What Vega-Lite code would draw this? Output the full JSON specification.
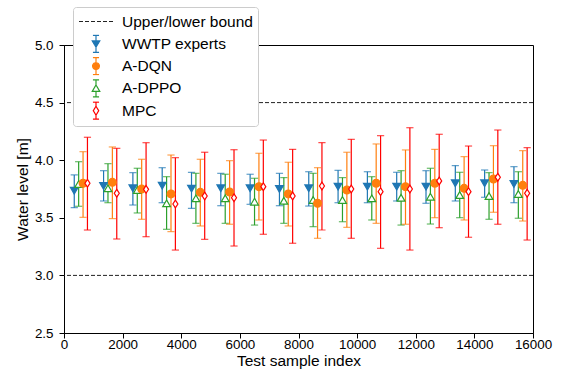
{
  "$schema": "https://vega.github.io/schema/vega-lite/v6.json",
  "autosize": {"type": "none"},
  "padding": {"left": 64, "top": 45, "right": 31, "bottom": 41},
  "width": 469,
  "height": 288,
  "background": "white",
  "config": {
    "font": "Liberation Sans",
    "view": {"stroke": "black", "strokeWidth": 1},
    "axis": {
      "grid": false,
      "domainColor": "black",
      "domainWidth": 1,
      "tickColor": "black",
      "tickWidth": 1,
      "tickSize": 5,
      "labelFlush": false,
      "labelOverlap": false,
      "labelFont": "Liberation Sans",
      "labelFontSize": 13.4,
      "labelColor": "black",
      "titleFont": "Liberation Sans",
      "titleFontSize": 15.5,
      "titleFontWeight": "normal",
      "titleColor": "black"
    }
  },
  "datasets": {
    "bounds": [
      {"series": "Upper/lower bound", "b": 3.0},
      {"series": "Upper/lower bound", "b": 4.5}
    ],
    "pts": [
      {"series": "WWTP experts", "x": 350, "y": 3.735, "lo": 3.588, "hi": 3.872},
      {"series": "WWTP experts", "x": 1350, "y": 3.776, "lo": 3.646, "hi": 3.909},
      {"series": "WWTP experts", "x": 2350, "y": 3.756, "lo": 3.611, "hi": 3.892},
      {"series": "WWTP experts", "x": 3350, "y": 3.779, "lo": 3.631, "hi": 3.935},
      {"series": "WWTP experts", "x": 4350, "y": 3.753, "lo": 3.582, "hi": 3.895},
      {"series": "WWTP experts", "x": 5350, "y": 3.756, "lo": 3.605, "hi": 3.886},
      {"series": "WWTP experts", "x": 6350, "y": 3.756, "lo": 3.617, "hi": 3.878},
      {"series": "WWTP experts", "x": 7350, "y": 3.75, "lo": 3.605, "hi": 3.886},
      {"series": "WWTP experts", "x": 8350, "y": 3.756, "lo": 3.602, "hi": 3.9},
      {"series": "WWTP experts", "x": 9350, "y": 3.77, "lo": 3.631, "hi": 3.912},
      {"series": "WWTP experts", "x": 10350, "y": 3.77, "lo": 3.631, "hi": 3.9},
      {"series": "WWTP experts", "x": 11350, "y": 3.77, "lo": 3.646, "hi": 3.895},
      {"series": "WWTP experts", "x": 12350, "y": 3.77, "lo": 3.626, "hi": 3.909},
      {"series": "WWTP experts", "x": 13350, "y": 3.8, "lo": 3.646, "hi": 3.953},
      {"series": "WWTP experts", "x": 14350, "y": 3.8, "lo": 3.678, "hi": 3.915},
      {"series": "WWTP experts", "x": 15350, "y": 3.793, "lo": 3.631, "hi": 3.944},
      {"series": "A-DPPO", "x": 500, "y": 3.793, "lo": 3.6, "hi": 3.987},
      {"series": "A-DPPO", "x": 1500, "y": 3.756, "lo": 3.631, "hi": 3.97},
      {"series": "A-DPPO", "x": 2500, "y": 3.741, "lo": 3.542, "hi": 3.93},
      {"series": "A-DPPO", "x": 3500, "y": 3.626, "lo": 3.4, "hi": 3.857},
      {"series": "A-DPPO", "x": 4500, "y": 3.669, "lo": 3.452, "hi": 3.886},
      {"series": "A-DPPO", "x": 5500, "y": 3.669, "lo": 3.452, "hi": 3.878},
      {"series": "A-DPPO", "x": 6500, "y": 3.64, "lo": 3.437, "hi": 3.843},
      {"series": "A-DPPO", "x": 7500, "y": 3.648, "lo": 3.452, "hi": 3.849},
      {"series": "A-DPPO", "x": 8500, "y": 3.655, "lo": 3.423, "hi": 3.886},
      {"series": "A-DPPO", "x": 9500, "y": 3.655, "lo": 3.466, "hi": 3.849},
      {"series": "A-DPPO", "x": 10500, "y": 3.669, "lo": 3.481, "hi": 3.857},
      {"series": "A-DPPO", "x": 11500, "y": 3.674, "lo": 3.437, "hi": 3.909},
      {"series": "A-DPPO", "x": 12500, "y": 3.683, "lo": 3.446, "hi": 3.93},
      {"series": "A-DPPO", "x": 13500, "y": 3.698, "lo": 3.501, "hi": 3.895},
      {"series": "A-DPPO", "x": 14500, "y": 3.689, "lo": 3.487, "hi": 3.892},
      {"series": "A-DPPO", "x": 15500, "y": 3.707, "lo": 3.496, "hi": 3.9},
      {"series": "A-DQN", "x": 650, "y": 3.8, "lo": 3.504, "hi": 4.074},
      {"series": "A-DQN", "x": 1650, "y": 3.808, "lo": 3.493, "hi": 4.115},
      {"series": "A-DQN", "x": 2650, "y": 3.75, "lo": 3.487, "hi": 4.008},
      {"series": "A-DQN", "x": 3650, "y": 3.707, "lo": 3.38, "hi": 4.045},
      {"series": "A-DQN", "x": 4650, "y": 3.721, "lo": 3.429, "hi": 4.008},
      {"series": "A-DQN", "x": 5650, "y": 3.724, "lo": 3.444, "hi": 3.996},
      {"series": "A-DQN", "x": 6650, "y": 3.77, "lo": 3.481, "hi": 4.06},
      {"series": "A-DQN", "x": 7650, "y": 3.707, "lo": 3.429, "hi": 3.982},
      {"series": "A-DQN", "x": 8650, "y": 3.626, "lo": 3.322, "hi": 3.935},
      {"series": "A-DQN", "x": 9650, "y": 3.741, "lo": 3.417, "hi": 4.069},
      {"series": "A-DQN", "x": 10650, "y": 3.8, "lo": 3.452, "hi": 4.141},
      {"series": "A-DQN", "x": 11650, "y": 3.77, "lo": 3.444, "hi": 4.089},
      {"series": "A-DQN", "x": 12650, "y": 3.8, "lo": 3.501, "hi": 4.094},
      {"series": "A-DQN", "x": 13650, "y": 3.756, "lo": 3.481, "hi": 4.031},
      {"series": "A-DQN", "x": 14650, "y": 3.837, "lo": 3.548, "hi": 4.126},
      {"series": "A-DQN", "x": 15650, "y": 3.782, "lo": 3.472, "hi": 4.083},
      {"series": "MPC", "x": 800, "y": 3.8, "lo": 3.394, "hi": 4.199},
      {"series": "MPC", "x": 1800, "y": 3.713, "lo": 3.316, "hi": 4.103},
      {"series": "MPC", "x": 2800, "y": 3.747, "lo": 3.336, "hi": 4.152},
      {"series": "MPC", "x": 3800, "y": 3.62, "lo": 3.22, "hi": 4.022},
      {"series": "MPC", "x": 4800, "y": 3.689, "lo": 3.313, "hi": 4.069},
      {"series": "MPC", "x": 5800, "y": 3.674, "lo": 3.255, "hi": 4.091},
      {"series": "MPC", "x": 6800, "y": 3.77, "lo": 3.357, "hi": 4.175},
      {"series": "MPC", "x": 7800, "y": 3.689, "lo": 3.279, "hi": 4.094},
      {"series": "MPC", "x": 8800, "y": 3.776, "lo": 3.394, "hi": 4.152},
      {"series": "MPC", "x": 9800, "y": 3.75, "lo": 3.322, "hi": 4.181},
      {"series": "MPC", "x": 10800, "y": 3.727, "lo": 3.235, "hi": 4.213},
      {"series": "MPC", "x": 11800, "y": 3.75, "lo": 3.22, "hi": 4.282},
      {"series": "MPC", "x": 12800, "y": 3.82, "lo": 3.414, "hi": 4.225},
      {"series": "MPC", "x": 13800, "y": 3.727, "lo": 3.331, "hi": 4.123},
      {"series": "MPC", "x": 14800, "y": 3.852, "lo": 3.444, "hi": 4.262},
      {"series": "MPC", "x": 15800, "y": 3.713, "lo": 3.307, "hi": 4.109}
    ]
  },
  "layer": [
    {
      "data": {"name": "bounds"},
      "mark": {"type": "rule", "strokeDash": [4, 2], "strokeWidth": 1},
      "encoding": {
        "y": {
          "field": "b", "type": "quantitative",
          "scale": {"domain": [2.5, 5.0], "nice": false, "zero": false},
          "axis": {"values": [2.5, 3.0, 3.5, 4.0, 4.5, 5.0], "format": ".1f", "title": "Water level [m]", "titlePadding": 4, "labelPadding": 6}
        },
        "color": {
          "field": "series", "type": "nominal",
          "scale": {
            "domain": ["Upper/lower bound", "WWTP experts", "A-DQN", "A-DPPO", "MPC"],
            "range": ["#222222", "#1f77b4", "#ff7f0e", "#2ca02c", "#ff0000"]
          },
          "legend": {
            "title": null,
            "orient": "none",
            "legendX": 9,
            "legendY": -38,
            "padding": 5,
            "clipHeight": 19,
            "rowPadding": 3.3,
            "labelOffset": 8,
            "labelFont": "Liberation Sans",
            "labelFontSize": 15.5,
            "labelColor": "black",
            "labelLimit": 300,
            "strokeColor": "#cccccc",
            "fillColor": "white",
            "cornerRadius": 3,
            "symbolSize": 1156,
            "symbolStrokeWidth": 1.2,
            "encode": {
              "symbols": {
                "update": {
                  "shape": {"signal": "datum.value === 'Upper/lower bound' ? 'M-1,0L1,0' : datum.value === 'WWTP experts' ? 'M0,-0.5L0,0.5M-0.18,-0.5L0.18,-0.5M-0.18,0.5L0.18,0.5M-0.22,-0.17L0.22,-0.17L0,0.2Z' : datum.value === 'A-DQN' ? 'M0,-0.5L0,0.5M-0.18,-0.5L0.18,-0.5M-0.18,0.5L0.18,0.5M0.2,0A0.2,0.2,0,1,1,-0.2,0A0.2,0.2,0,1,1,0.2,0Z' : datum.value === 'A-DPPO' ? 'M0,-0.5L0,-0.2M0,0.17L0,0.5M-0.18,-0.5L0.18,-0.5M-0.18,0.5L0.18,0.5M-0.22,0.17L0.22,0.17L0,-0.2Z' : 'M0,-0.5L0,-0.26M0,0.26L0,0.5M-0.18,-0.5L0.18,-0.5M-0.18,0.5L0.18,0.5M0,-0.26L0.16,0L0,0.26L-0.16,0Z'"},
                  "fill": {"signal": "datum.value === 'WWTP experts' ? '#1f77b4' : datum.value === 'A-DQN' ? '#ff7f0e' : datum.value === 'Upper/lower bound' ? 'transparent' : 'white'"},
                  "strokeDash": {"signal": "datum.value === 'Upper/lower bound' ? [4, 2] : [1, 0]"},
                  "strokeWidth": {"value": 1.2},
                  "size": {"value": 1156},
                  "opacity": {"value": 1}
                }
              }
            }
          }
        }
      }
    },
    {
      "data": {"name": "pts"},
      "mark": {"type": "rule", "strokeWidth": 1.2},
      "encoding": {
        "x": {
          "field": "x", "type": "quantitative",
          "scale": {"domain": [0, 16000], "nice": false, "zero": false},
          "axis": {"values": [0, 2000, 4000, 6000, 8000, 10000, 12000, 14000, 16000], "format": "d", "title": "Test sample index", "titlePadding": 3, "labelPadding": -1}
        },
        "y": {"field": "lo", "type": "quantitative"},
        "y2": {"field": "hi"},
        "color": {"field": "series", "type": "nominal"}
      }
    },
    {
      "data": {"name": "pts"},
      "mark": {"type": "tick", "orient": "horizontal", "size": 6, "thickness": 0.01, "filled": false, "strokeWidth": 1.2},
      "encoding": {
        "x": {"field": "x", "type": "quantitative"},
        "y": {"field": "lo", "type": "quantitative"},
        "color": {"field": "series", "type": "nominal"}
      }
    },
    {
      "data": {"name": "pts"},
      "mark": {"type": "tick", "orient": "horizontal", "size": 6, "thickness": 0.01, "filled": false, "strokeWidth": 1.2},
      "encoding": {
        "x": {"field": "x", "type": "quantitative"},
        "y": {"field": "hi", "type": "quantitative"},
        "color": {"field": "series", "type": "nominal"}
      }
    },
    {
      "data": {"name": "pts"},
      "mark": {"type": "point", "filled": true, "strokeWidth": 1.2, "opacity": 1},
      "encoding": {
        "x": {"field": "x", "type": "quantitative"},
        "y": {"field": "y", "type": "quantitative"},
        "shape": {
          "field": "series", "type": "nominal",
          "scale": {"domain": ["WWTP experts", "A-DQN", "A-DPPO", "MPC"], "range": ["triangle-down", "circle", "triangle-up", "M0,-1L0.65,0L0,1L-0.65,0Z"]},
          "legend": null
        },
        "fill": {
          "field": "series", "type": "nominal",
          "scale": {"domain": ["WWTP experts", "A-DQN", "A-DPPO", "MPC"], "range": ["#1f77b4", "#ff7f0e", "white", "white"]},
          "legend": null
        },
        "stroke": {
          "field": "series", "type": "nominal",
          "scale": {"domain": ["WWTP experts", "A-DQN", "A-DPPO", "MPC"], "range": ["#1f77b4", "#ff7f0e", "#2ca02c", "#ff0000"]},
          "legend": null
        },
        "size": {"value": 60}
      }
    }
  ]
}
